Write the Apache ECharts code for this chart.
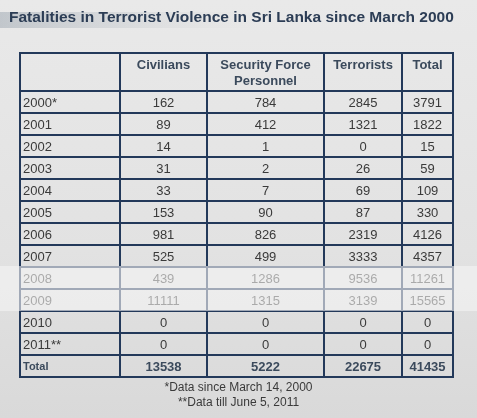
<!DOCTYPE html>
<html><head><meta charset="utf-8">
<script src="https://cdn.jsdelivr.net/npm/echarts@6/dist/echarts.min.js"></script>
<style>html,body{margin:0;padding:0;background:#e4e4e4}#c{width:477px;height:418px}</style>
</head><body><div id="c"></div>
<script>
const headers = ['', 'Civilians', 'Security Force\nPersonnel', 'Terrorists', 'Total'];
const years = ['2000*','2001','2002','2003','2004','2005','2006','2007','2008','2009','2010','2011**'];
const civilians = [162,89,14,31,33,153,981,525,439,11111,0,0];
const security = [784,412,1,2,7,90,826,499,1286,1315,0,0];
const terrorists = [2845,1321,0,26,69,87,2319,3333,9536,3139,0,0];
const totals = [3791,1822,15,59,109,330,4126,4357,11261,15565,0,0];
const totalLabel = 'Total';
const grandTotals = [13538,5222,22675,41435];
const titleText = 'Fatalities in Terrorist Violence in Sri Lanka since March 2000';
const footnotes = '*Data since March 14, 2000\n**Data till June 5, 2011';

// layout (table units)
const colEdges = [0,100,187,304,382,433];
const headerH = 38, rowH = 22;
const nRows = 2 + years.length;
const rowEdges = [0, headerH];
for (let i = 1; i < nRows; i++) rowEdges.push(headerH + i*rowH);

const cells = [];
headers.forEach((h,c)=>cells.push({c, r:0, text:h, kind:'header'}));
years.forEach((y,i)=>{
  const r = i+1;
  [y, civilians[i], security[i], terrorists[i], totals[i]].forEach((v,c)=>cells.push({c, r, text:String(v), kind:'data'}));
});
cells.push({c:0, r:nRows-1, text:totalLabel, kind:'totalLabel'});
grandTotals.forEach((v,i)=>cells.push({c:i+1, r:nRows-1, text:String(v), kind:'total'}));

const font = '"Liberation Sans", Arial, sans-serif';
const chart = echarts.init(document.getElementById('c'));
chart.setOption({
  backgroundColor: {type:'linear', x:0, y:0, x2:0, y2:1, colorStops:[{offset:0,color:'#e9e9e9'},{offset:0.6,color:'#e2e2e2'},{offset:1,color:'#d9d9d9'}]},
  animation:false,
  title:[{text:titleText, left:9, top:10, padding:0, textStyle:{fontFamily:font, fontSize:15.5, fontWeight:'bold', color:'#2c3d55'}},
         {text:footnotes, left:'center', top:380, padding:0, textStyle:{fontFamily:font, fontSize:12, fontWeight:'normal', color:'#3a3a3a', lineHeight:15, align:'center'}}],
  graphic:[
    {type:'rect', left:0, top:12, shape:{width:260, height:16}, silent:true, z:-1,
     style:{fill:{type:'linear',x:0,y:0,x2:1,y2:0,colorStops:[{offset:0,color:'rgba(120,135,150,0.35)'},{offset:0.5,color:'rgba(150,160,170,0.18)'},{offset:1,color:'rgba(200,200,200,0)'}]}}},
    {type:'rect', left:0, top:266, shape:{width:477, height:45}, silent:true, z:100,
     style:{fill:'rgba(245,245,245,0.6)'}}
  ],
  grid:{left:20, right:24, top:53, bottom:41},
  xAxis:{type:'value', min:0, max:colEdges[colEdges.length-1], show:false},
  yAxis:{type:'value', min:0, max:rowEdges[rowEdges.length-1], inverse:true, show:false},
  series:[{
    type:'custom', clip:false,
    data: cells.map(d=>[d.c, d.r]),
    renderItem:(params, api)=>{
      const d = cells[params.dataIndex];
      const p0 = api.coord([colEdges[d.c], rowEdges[d.r]]);
      const p1 = api.coord([colEdges[d.c+1], rowEdges[d.r+1]]);
      const w = p1[0]-p0[0], h = p1[1]-p0[1];
      let tx, ty, align, va='middle', f, fill='#3a3a3a';
      if (d.c===0) { tx = p0[0]+3; align='left'; } else { tx = p0[0]+w/2; align='center'; }
      ty = p0[1]+h/2+1;
      if (d.kind==='header') { f='bold 13px '+font; fill='#3b4a5c'; va='top'; ty=p0[1]+4; }
      else if (d.kind==='data') { f='13px '+font; }
      else if (d.kind==='totalLabel') { f='bold 11px '+font; fill='#3b4a5c'; }
      else { f='bold 13px '+font; fill='#3b4a5c'; }
      return {type:'group', children:[
        {type:'rect', shape:{x:p0[0], y:p0[1], width:w, height:h}, style:{fill:'none', stroke:'#23395a', lineWidth:2}},
        {type:'text', style:{text:d.text, x:tx, y:ty, align:align, verticalAlign:va, font:f, fill:fill, lineHeight:16}}
      ]};
    }
  }]
});
</script></body></html>
